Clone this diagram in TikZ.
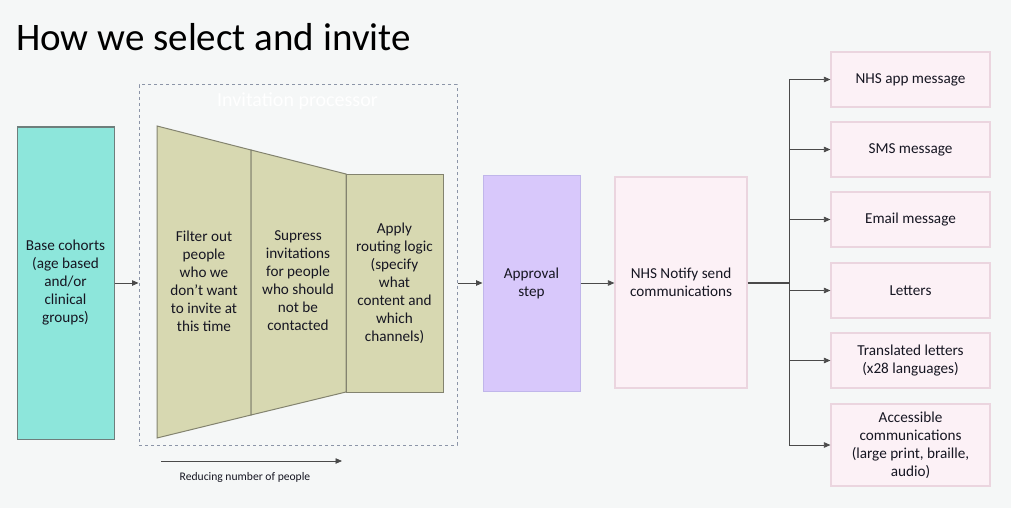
\documentclass[tikz,border=0pt]{standalone}
\usepackage{fontspec}
\setmainfont{Carlito}
\usetikzlibrary{arrows.meta}
\definecolor{bgc}{HTML}{F5F7F7}
\definecolor{txt}{HTML}{161622}
\definecolor{tealf}{HTML}{8DE6DB}
\definecolor{teald}{HTML}{6E7E7C}
\definecolor{olivef}{HTML}{D7D8B1}
\definecolor{olived}{HTML}{83836F}
\definecolor{lavf}{HTML}{D8C8FB}
\definecolor{lavd}{HTML}{C0B6EA}
\definecolor{pinkf}{HTML}{FCF1F6}
\definecolor{pinkd}{HTML}{EBD5DF}
\definecolor{dashc}{HTML}{8C95A8}
\definecolor{linec}{HTML}{4A4A4A}
\begin{document}
\begin{tikzpicture}[x=1pt,y=-1pt,
  font=\fontsize{15.2}{18}\selectfont, text=txt,
  box/.style={draw, align=center, inner sep=0pt, line width=1pt},
  basebox/.style={box, fill=tealf, draw=teald},
  apprbox/.style={box, fill=lavf, draw=lavd},
  pinkbox/.style={box, fill=pinkf, draw=pinkd, line width=1.2pt},
  chanbox/.style={pinkbox, minimum width=159pt, minimum height=55pt},
  olive/.style={fill=olivef, draw=olived, line width=1pt},
  conn/.style={draw=linec, line width=0.8pt, -{Triangle[length=6.5pt,width=5.5pt]}},
  plain/.style={draw=linec, line width=1.2pt},
  ttext/.style={align=center, inner sep=0pt}
]
\useasboundingbox[fill=bgc] (0,0) rectangle (1011,508);

\node[anchor=base west, inner sep=0pt, font=\fontsize{39}{46}\selectfont, text=black] (title) at (16,51) {How we select and invite};

% processor container
\node[draw=dashc, dashed, line width=1pt, minimum width=318pt, minimum height=360pt, inner sep=0pt] (proc) at (298,265) {};
\node[text=white, font=\fontsize{20}{24}\selectfont, inner sep=0pt] (plab) at (297.5,101) {Invitation processor};

% base
\node[basebox, minimum width=97pt, minimum height=312pt] (base) at (65.5,283) {Base cohorts\\(age based\\and/or\\clinical\\groups)};

% funnel
\draw[olive] (157,126) -- (251,150) -- (251,415) -- (157,438) -- cycle;
\draw[olive] (251,150) -- (346,174) -- (346,392) -- (251,415) -- cycle;
\draw[olive] (346,174) rectangle (443,392);
\node[ttext] (t1) at (204,281) {Filter out\\people\\who we\\don't want\\to invite at\\this time};
\node[ttext] (t2) at (298,281) {Supress\\invitations\\for people\\who should\\not be\\contacted};
\node[ttext] (t3) at (394.5,283) {Apply\\routing logic\\(specify\\what\\content and\\which\\channels)};

% approval and notify
\node[apprbox, minimum width=97pt, minimum height=216pt] (appr) at (531.5,283) {Approval\\step};
\node[pinkbox, minimum width=132pt, minimum height=211pt] (notify) at (681,282.5) {NHS Notify send\\communications};

% channels
\node[chanbox] (b1) at (910.5,79.5) {NHS app message};
\node[chanbox] (b2) at (910.5,149.5) {SMS message};
\node[chanbox] (b3) at (910.5,219.5) {Email message};
\node[chanbox] (b4) at (910.5,290.5) {Letters};
\node[chanbox] (b5) at (910.5,360.5) {Translated letters\\(x28 languages)};
\node[chanbox, minimum height=82pt] (b6) at (910.5,445) {Accessible\\communications\\(large print, braille,\\audio)};

% connectors
\draw[conn] (base.east) -- (base.east -| proc.west);
\draw[conn] (proc.east |- appr.west) -- (appr.west);
\draw[conn] (appr.east) -- (appr.east -| notify.west);
\coordinate (bus) at (789,283);
\draw[plain] (notify.east |- bus) -- (bus);
\foreach \b in {b1,b2,b3,b4,b5,b6}{
  \draw[conn] (bus) |- (\b.west);
}

% reducing arrow
\coordinate (ra) at (161,461);
\coordinate (rb) at (342,461);
\draw[conn] (ra) -- (rb);
\node[font=\fontsize{11.6}{14}\selectfont, inner sep=0pt] (rlab) at (245,477) {Reducing number of people};
\end{tikzpicture}
\end{document}
